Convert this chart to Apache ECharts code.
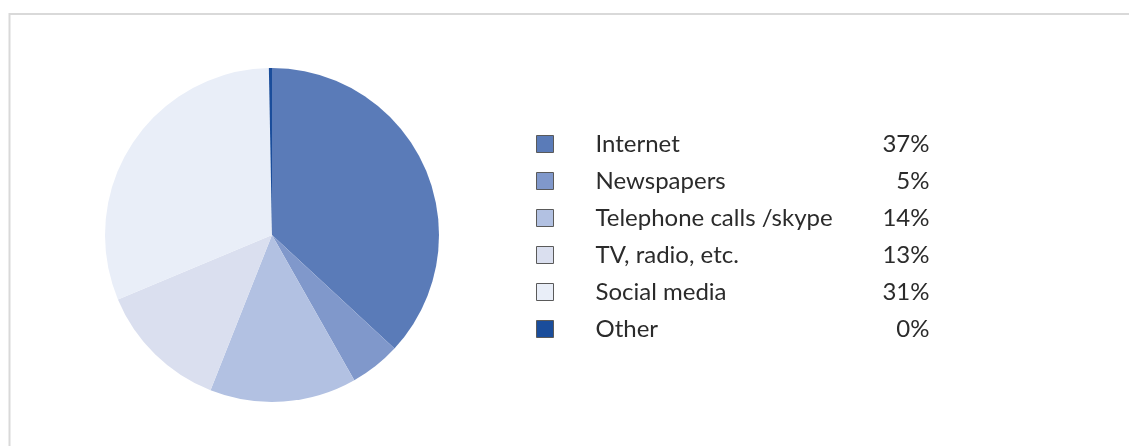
<!DOCTYPE html>
<html>
<head>
<meta charset="utf-8">
<script src="https://cdn.jsdelivr.net/npm/echarts@6/dist/echarts.min.js"></script>
<style>
html,body{margin:0;padding:0;background:#fff;}
#chart{width:1129px;height:446px;}
</style>
</head>
<body>
<div id="chart"></div>
<script>
const categories = ['Internet', 'Newspapers', 'Telephone calls /skype', 'TV, radio, etc.', 'Social media', 'Other'];
const values = [36.9, 4.9, 14.2, 12.7, 31.0, 0.3];
const colors = ['#5a7bb8', '#8098cb', '#b2c1e2', '#dadfef', '#e9eef8', '#1a4d9b'];

const chart = echarts.init(document.getElementById('chart'));
const pctByName = {};
categories.forEach((c, i) => { pctByName[c] = Math.round(values[i]) + '%'; });

chart.setOption({
  animation: false,
  color: colors,
  graphic: [{
    type: 'rect',
    shape: { x: 9.5, y: 14, width: 1140, height: 460 },
    style: { fill: 'none', stroke: '#d9d9d9', lineWidth: 2 },
    silent: true
  }],
  legend: {
    orient: 'vertical',
    left: 536,
    top: 132,
    padding: 0,
    itemWidth: 17,
    itemHeight: 17,
    itemGap: 13,
    icon: 'rect',
    itemStyle: { borderColor: '#5a5a5a', borderWidth: 1 },
    textStyle: {
      fontFamily: 'Lato',
      fontSize: 24,
      lineHeight: 24,
      color: '#2b2b2b',
      rich: {
        s: { width: 37, fontSize: 24, lineHeight: 24 },
        n: { width: 255, fontSize: 24, lineHeight: 24, fontFamily: 'Lato', color: '#2b2b2b' },
        p: { width: 79, align: 'right', fontSize: 24, lineHeight: 24, fontFamily: 'Lato', color: '#2b2b2b' }
      }
    },
    formatter: function (name) {
      return '{s| }{n|' + name + '}{p|' + pctByName[name] + '}';
    },
    selectedMode: false
  },
  series: [{
    type: 'pie',
    center: [272, 235],
    radius: 167,
    startAngle: 90,
    clockwise: true,
    label: { show: false },
    labelLine: { show: false },
    itemStyle: { borderWidth: 0 },
    emphasis: { disabled: true },
    data: categories.map((c, i) => ({ name: c, value: values[i] }))
  }]
});
</script>
</body>
</html>
